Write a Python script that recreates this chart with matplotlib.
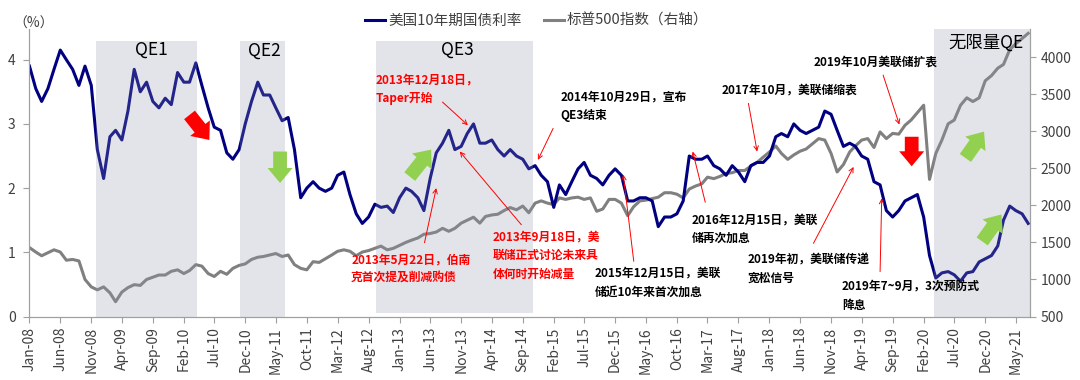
import numpy as np
import pandas as pd
import matplotlib
matplotlib.use('Agg')
import matplotlib.pyplot as plt
import matplotlib.dates as mdates
from matplotlib.patches import FancyArrowPatch

plt.rcParams['font.family'] = ['Noto Sans CJK SC', 'DejaVu Sans']

# ---- data (monthly) ----
months = pd.date_range('2008-01-01', '2021-07-01', freq='MS')

yield_10y = [
    3.90, 3.55, 3.35, 3.55, 3.85, 4.15, 4.00, 3.85, 3.60, 3.90, 3.60, 2.60,   # 2008
    2.15, 2.80, 2.90, 2.75, 3.20, 3.85, 3.50, 3.65, 3.35, 3.25, 3.40, 3.30,   # 2009
    3.80, 3.65, 3.65, 3.95, 3.60, 3.25, 2.95, 2.90, 2.55, 2.45, 2.60, 3.00,   # 2010
    3.35, 3.65, 3.45, 3.45, 3.25, 3.05, 3.10, 2.60, 1.85, 2.00, 2.10, 2.00,   # 2011
    1.95, 2.00, 2.20, 2.25, 1.90, 1.60, 1.45, 1.55, 1.75, 1.70, 1.72, 1.62,   # 2012
    1.85, 2.00, 1.95, 1.85, 1.65, 2.15, 2.55, 2.70, 2.90, 2.60, 2.65, 2.85,   # 2013
    3.00, 2.70, 2.70, 2.75, 2.60, 2.50, 2.60, 2.50, 2.45, 2.30, 2.35, 2.20,   # 2014
    2.10, 1.70, 2.05, 1.90, 2.10, 2.30, 2.40, 2.20, 2.15, 2.05, 2.20, 2.30,   # 2015
    2.20, 1.80, 1.80, 1.85, 1.85, 1.80, 1.40, 1.55, 1.55, 1.60, 1.80, 2.50,   # 2016
    2.45, 2.45, 2.50, 2.35, 2.30, 2.20, 2.35, 2.25, 2.10, 2.35, 2.40, 2.40,   # 2017
    2.50, 2.80, 2.85, 2.80, 3.00, 2.90, 2.85, 2.90, 2.95, 3.20, 3.15, 2.90,   # 2018
    2.65, 2.70, 2.65, 2.50, 2.45, 2.10, 2.05, 1.65, 1.55, 1.65, 1.80, 1.85,   # 2019
    1.90, 1.55, 0.95, 0.60, 0.68, 0.70, 0.65, 0.55, 0.68, 0.70, 0.85, 0.90,   # 2020
    0.95, 1.10, 1.50, 1.72, 1.65, 1.60, 1.45,                                 # 2021
]

sp500 = [
    1430, 1370, 1320, 1360, 1400, 1370, 1260, 1270, 1250, 1000, 900, 860,     # 2008
    900, 820, 700, 830, 890, 930, 920, 1000, 1030, 1060, 1060, 1110,          # 2009
    1130, 1080, 1120, 1200, 1180, 1080, 1040, 1110, 1070, 1150, 1190, 1210,   # 2010
    1270, 1300, 1310, 1330, 1350, 1310, 1330, 1200, 1150, 1130, 1240, 1230,   # 2011
    1280, 1330, 1380, 1400, 1380, 1320, 1370, 1390, 1420, 1450, 1400, 1420,   # 2012
    1460, 1500, 1530, 1560, 1610, 1620, 1640, 1690, 1650, 1690, 1760, 1800,   # 2013
    1840, 1760, 1850, 1870, 1880, 1930, 1970, 1940, 1990, 1900, 2030, 2060,   # 2014
    2030, 2010, 2100, 2080, 2100, 2110, 2080, 2100, 1920, 1950, 2080, 2080,   # 2015
    2030, 1860, 1980, 2060, 2070, 2090, 2110, 2170, 2170, 2150, 2100, 2220,   # 2016
    2260, 2290, 2380, 2360, 2390, 2430, 2440, 2470, 2470, 2530, 2580, 2650,   # 2017
    2720, 2800, 2700, 2620, 2680, 2730, 2760, 2830, 2900, 2880, 2700, 2450,   # 2018
    2550, 2720, 2800, 2880, 2900, 2780, 2990, 2900, 2970, 2960, 3080, 3150,   # 2019
    3250, 3350, 2350, 2700, 2880, 3100, 3150, 3350, 3450, 3400, 3450, 3680,   # 2020
    3750, 3850, 3900, 4100, 4180, 4250, 4320,                                 # 2021
]

qe_names = ['QE1', 'QE2', 'QE3', '无限量QE']
qe_start = ['2008-11-22', '2010-11-06', '2012-09-07', '2020-03-24']
qe_end = ['2010-04-07', '2011-06-15', '2014-10-22', '2021-07-10']
qe_label_x = ['2009-08-25', '2011-03-04', '2013-10-15', '2020-12-04']
qe_label_y = [4.15, 4.14, 4.15, 4.27]

# annotations: text, text anchor (date, yield), arrow tail, arrow tip, colour
notes = [
    ('2013年12月18日，\nTaper开始', ('2012-09-07', 3.54), ('2013-08-01', 3.34), ('2013-12-04', 2.98), 'red'),
    ('2013年5月22日，伯南\n克首次提及削减购债', ('2012-05-07', 0.74), ('2013-05-04', 1.15), ('2013-07-01', 2.00), 'red'),
    ('2013年9月18日，美\n联储正式讨论未来具\n体何时开始减量', ('2014-04-04', 0.95), ('2014-08-25', 1.43), ('2013-10-25', 2.57), 'red'),
    ('2014年10月29日，宣布\nQE3结束', ('2015-03-07', 3.28), ('2015-01-29', 2.93), ('2014-11-15', 2.44), 'black'),
    ('2015年12月15日，美联\n储近10年来首次加息', ('2015-08-22', 0.53), ('2016-03-02', 0.86), ('2016-01-10', 2.21), 'black'),
    ('2016年12月15日，美联\n储再次加息', ('2016-12-13', 1.36), ('2017-02-18', 1.78), ('2016-12-18', 2.57), 'black'),
    ('2017年10月，美联储缩表', ('2017-05-10', 3.53), ('2017-09-19', 3.32), ('2017-11-01', 2.57), 'black'),
    ('2019年初，美联储传递\n宽松信号', ('2017-09-13', 0.74), ('2018-08-06', 1.14), ('2019-02-20', 2.33), 'black'),
    ('2019年10月美联储扩表', ('2018-08-06', 3.96), ('2019-07-16', 3.76), ('2019-10-04', 2.99), 'black'),
    ('2019年7~9月，3次预防式\n降息', ('2018-12-24', 0.32), ('2019-07-01', 0.70), ('2019-07-09', 1.84), 'black'),
]

# trend block arrows: tail (date, yield), tip (date, yield), colour
trend_arrows = [
    (('2010-03-01', 3.14), ('2010-06-07', 2.75), '#ff0000'),
    (('2011-05-22', 2.57), ('2011-05-22', 2.08), '#92d050'),
    (('2013-02-20', 2.18), ('2013-06-06', 2.60), '#92d050'),
    (('2019-12-04', 2.80), ('2019-12-04', 2.34), '#ff0000'),
    (('2020-08-25', 2.47), ('2020-11-25', 2.88), '#92d050'),
    (('2020-11-16', 1.17), ('2021-02-19', 1.59), '#92d050'),
]

navy = '#000080'
grey = '#808080'
axis_grey = '#a0a0a0'
text_grey = '#404040'


def main():
    fig = plt.figure(figsize=(10.8, 3.8), dpi=100)
    ax_sp = fig.add_axes([0.0273, 0.167, 0.9264, 0.757])
    ax_y = ax_sp.twinx()
    ax_sp.yaxis.tick_right()
    ax_y.yaxis.tick_left()

    # S&P on the host axes (bottom), yield on the twin (top)
    l_sp, = ax_sp.plot(months, sp500, color=grey, lw=2.2, zorder=2)
    l_y, = ax_y.plot(months, yield_10y, color=navy, lw=2.2, zorder=2)

    ax_y.set_ylim(0, 4.48)
    ax_y.set_yticks([0, 1, 2, 3, 4])
    ax_sp.set_ylim(500, 4380)
    ax_sp.set_yticks(np.arange(500, 4001, 500))
    ax_sp.set_xlim(pd.Timestamp('2008-01-01'), pd.Timestamp('2021-07-10'))

    ticks = pd.date_range('2008-01-01', '2021-05-01', freq='5MS')
    ax_sp.set_xticks(ticks)
    ax_sp.xaxis.set_major_formatter(mdates.DateFormatter('%b-%y'))
    plt.setp(ax_sp.get_xticklabels(), rotation=90)

    for a in (ax_sp, ax_y):
        a.spines['top'].set_visible(False)
        for s in ('left', 'right', 'bottom'):
            a.spines[s].set_color(axis_grey)
        a.tick_params(axis='both', direction='out', length=4, color=axis_grey,
                      labelcolor=text_grey, labelsize=10, width=0.8)
    ax_y.tick_params(axis='y', pad=6)

    # QE shading drawn over the lines (semi-transparent)
    for i, name in enumerate(qe_names):
        lo = 0.013 if name == 'QE3' else 0.0
        hi = 1.0 if i == 3 else 0.959
        ax_y.axvspan(pd.Timestamp(qe_start[i]), pd.Timestamp(qe_end[i]), ymin=lo, ymax=hi,
                     color='#9397a8', alpha=0.25, lw=0, zorder=5)
        ax_y.text(pd.Timestamp(qe_label_x[i]), qe_label_y[i], name, ha='center', va='center',
                  fontsize=12.5, color='black', zorder=8)

    # annotations
    for txt, pos, tail, tip, col in notes:
        ax_y.text(pd.Timestamp(pos[0]), pos[1], txt, ha='left', va='center', color=col,
                  fontsize=8.5, fontweight='bold', linespacing=1.55, zorder=9)
        ax_y.annotate('', xy=(pd.Timestamp(tip[0]), tip[1]),
                      xytext=(pd.Timestamp(tail[0]), tail[1]),
                      arrowprops=dict(arrowstyle='->', color='#ff0000', lw=0.7,
                                      shrinkA=0, shrinkB=0, mutation_scale=8),
                      zorder=9)

    for tail, tip, col in trend_arrows:
        arr = FancyArrowPatch((mdates.date2num(pd.Timestamp(tail[0])), tail[1]),
                              (mdates.date2num(pd.Timestamp(tip[0])), tip[1]),
                              arrowstyle='simple,head_length=0.6,head_width=1.0,tail_width=0.55',
                              mutation_scale=18, color=col, lw=0, shrinkA=0, shrinkB=0,
                              zorder=9)
        ax_y.add_patch(arr)

    fig.legend([l_y, l_sp], ['美国10年期国债利率', '标普500指数（右轴）'],
               loc='center', bbox_to_anchor=(0.497, 0.945), ncol=2, frameon=False,
               fontsize=10.5, handlelength=1.4, handletextpad=0.2, columnspacing=1.5,
               labelcolor=text_grey)
    fig.text(0.0128, 0.938, '（%）', fontsize=10, color=text_grey, ha='left', va='center')

    fig.savefig('out.png', dpi=100, facecolor='white')


if __name__ == '__main__':
    main()
